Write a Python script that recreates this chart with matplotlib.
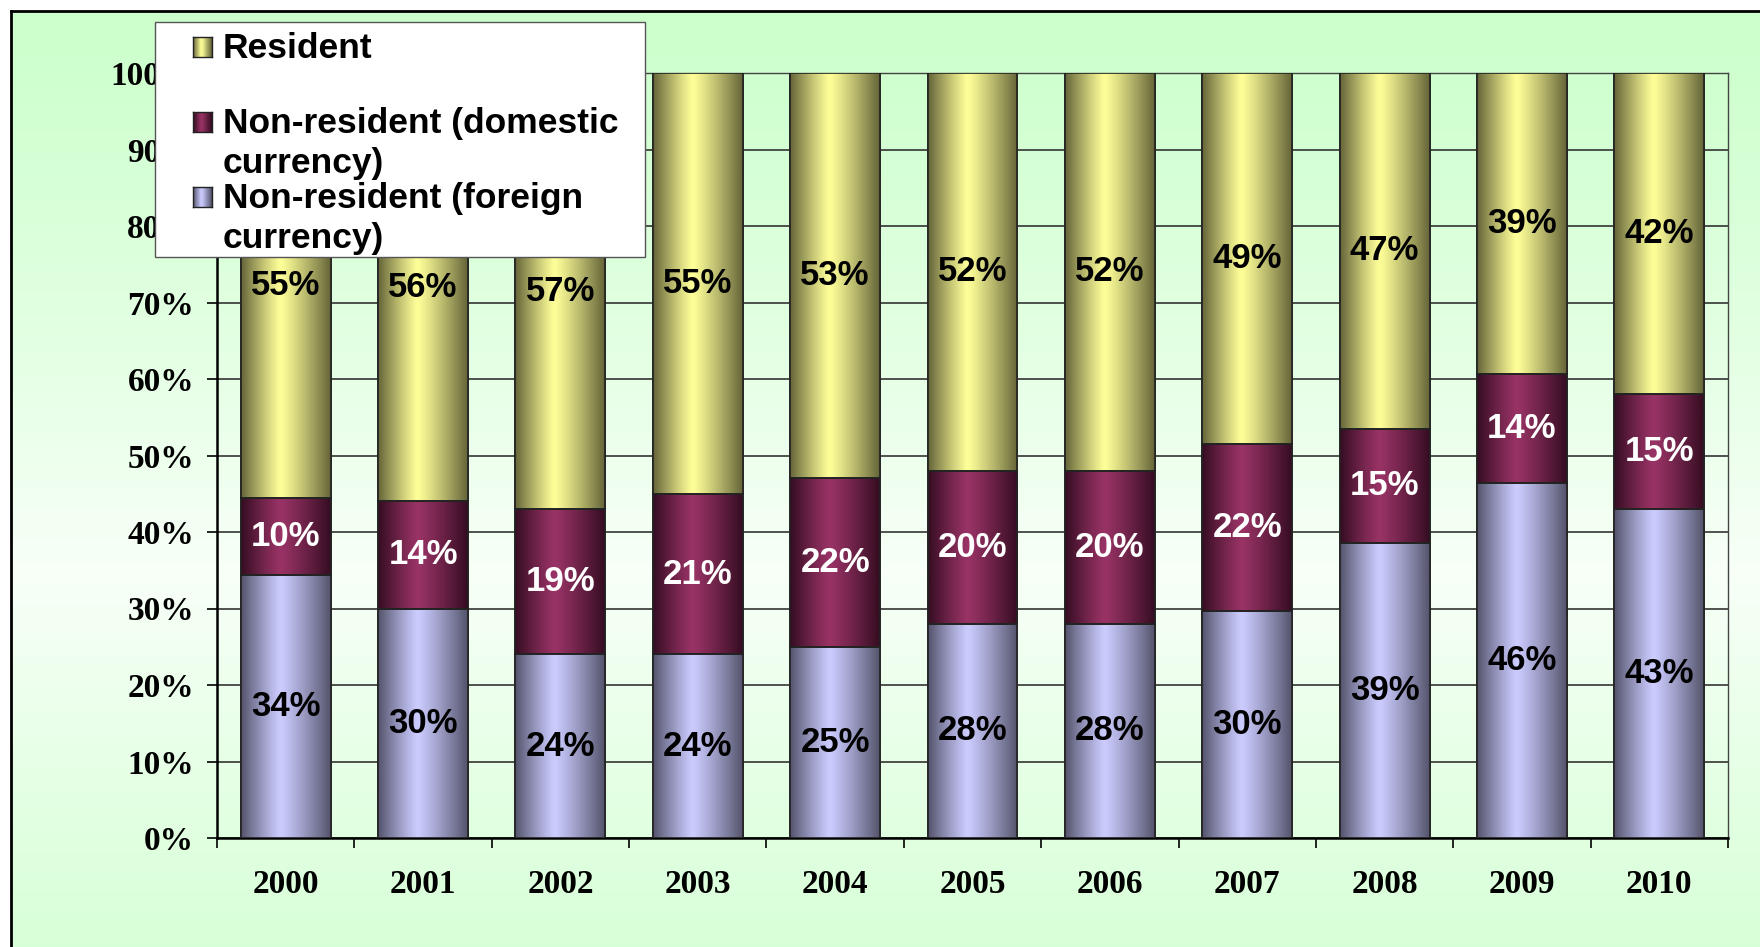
import numpy as np
import matplotlib.pyplot as plt
from matplotlib.patches import Rectangle
from matplotlib.colors import to_rgb

years = ['2000', '2001', '2002', '2003', '2004', '2005',
         '2006', '2007', '2008', '2009', '2010']
foreign = [34, 30, 24, 24, 25, 28, 28, 30, 39, 46, 43]
domestic = [10, 14, 19, 21, 22, 20, 20, 22, 15, 14, 15]
resident = [55, 56, 57, 55, 53, 52, 52, 49, 47, 39, 42]

series_names = ['Non-resident (foreign currency)',
                'Non-resident (domestic currency)',
                'Resident']
light_cols = ['#ccccff', '#993366', '#ffff99']
dark_cols = ['#55556e', '#360d22', '#66663a']
label_cols = ['black', 'white', 'black']

W, H = 1760, 947


def shade_strip(light, dark, n=64):
    # horizontal "cylinder" shading, dark at the edges, bright a bit left of middle
    t = np.linspace(0, 1, n)
    peak = 0.44
    d = np.where(t < peak, (peak - t) / peak, (t - peak) / (1 - peak))
    w = np.clip(1 - d ** 1.15, 0, 1)
    lo, hi = np.array(to_rgb(dark)), np.array(to_rgb(light))
    return (lo + (hi - lo) * w[:, None])[None, :, :]


fig = plt.figure(figsize=(W / 100, H / 100), dpi=100)
fig.patch.set_facecolor('white')

# green gradient background with frame on left/top
bg = fig.add_axes([11 / W, 0, 1 - 11 / W, 1 - 11 / H], zorder=-5)
yy = np.linspace(0, 1, 200)
g = np.clip(1 - np.abs(yy - 0.6) / 0.6, 0, 1) ** 1.2
top_c, white_c = np.array([204, 255, 204]) / 255, np.array([248, 255, 248]) / 255
bg_img = top_c + (white_c - top_c) * g[:, None]
bg.imshow(bg_img[:, None, :], extent=[0, 1, 1, 0], aspect='auto')
bg.set_xlim(0, 1)
bg.set_ylim(1, 0)
bg.set_xticks([])
bg.set_yticks([])
for s in ['right', 'bottom']:
    bg.spines[s].set_visible(False)
for s in ['left', 'top']:
    bg.spines[s].set_linewidth(2)
    bg.spines[s].set_color('black')

ax = fig.add_axes([217 / W, 1 - 838 / H, (1728 - 217) / W, (838 - 73) / H])
ax.set_facecolor('none')

x = np.arange(len(years))
data = np.array([foreign, domestic, resident], dtype=float)
shares = data / data.sum(axis=0) * 100
bar_w = 0.655

bottoms = np.zeros(len(years))
for i in range(3):
    bars = ax.bar(x, shares[i], bottom=bottoms, width=bar_w, color=light_cols[i],
                  edgecolor='#222222', linewidth=1.2, zorder=3)
    strip = shade_strip(light_cols[i], dark_cols[i])
    for b in bars:
        im = ax.imshow(strip, extent=[b.get_x(), b.get_x() + b.get_width(),
                                      b.get_y(), b.get_y() + b.get_height()],
                       aspect='auto', zorder=3.5, interpolation='bilinear')
        im.set_clip_path(b)
    # redraw the outlines over the shading
    ax.bar(x, shares[i], bottom=bottoms, width=bar_w, fill=False,
           edgecolor='#222222', linewidth=1.2, zorder=4)
    for xi, v, s, b0 in zip(x, data[i], shares[i], bottoms):
        ax.text(xi, b0 + s / 2, f'{int(v)}%', ha='center', va='center',
                color=label_cols[i], fontsize=25, fontweight='bold',
                family='Liberation Sans', zorder=5)
    bottoms += shares[i]

ax.set_xlim(-0.5, len(years) - 0.5)
ax.set_ylim(0, 100)
ax.set_yticks(np.arange(0, 101, 10))
ax.set_yticklabels([f'{v}%' for v in range(0, 101, 10)])
ax.set_xticks(x)
ax.set_xticklabels(years)
ax.set_xticks(np.arange(-0.5, len(years), 1), minor=True)
ax.tick_params(axis='x', which='major', length=0, pad=22)
ax.tick_params(axis='x', which='minor', length=7.5, width=1.2, direction='out')
ax.tick_params(axis='y', length=7.5, width=1.2, direction='out', pad=9)
for lab in ax.get_xticklabels() + ax.get_yticklabels():
    lab.set_family('Liberation Serif')
    lab.set_fontweight('bold')
    lab.set_fontsize(24)
ax.grid(axis='y', color='#333333', linewidth=1.2, zorder=1)
ax.set_axisbelow(True)
for s in ['left', 'bottom']:
    ax.spines[s].set_linewidth(1.8)
    ax.spines[s].set_color('black')
for s in ['top', 'right']:
    ax.spines[s].set_linewidth(1.0)
    ax.spines[s].set_color('#444444')

# legend box drawn by hand (entries overflow like in the original)
fig.add_artist(Rectangle((155 / W, 1 - 257 / H), 490 / W, 235 / H,
                         transform=fig.transFigure, facecolor='white',
                         edgecolor='#555555', linewidth=1.0, zorder=10))
legend_rows = [
    (2, ['Resident'], 58),
    (1, ['Non-resident (domestic', 'currency)'], 133),
    (0, ['Non-resident (foreign', 'currency)'], 208),
]
for idx, lines, base in legend_rows:
    sw = fig.add_axes([193 / W, 1 - (base - 1) / H, 19 / W, 20 / H], zorder=11)
    sw.imshow(shade_strip(light_cols[idx], dark_cols[idx], 16), aspect='auto')
    sw.set_xticks([])
    sw.set_yticks([])
    for s in sw.spines.values():
        s.set_color('#222222')
        s.set_linewidth(1.0)
    for k, line in enumerate(lines):
        fig.text(223 / W, 1 - (base + 40 * k) / H, line, ha='left', va='baseline',
                 fontsize=25.5, fontweight='bold', family='Liberation Sans', zorder=12)

fig.savefig('out.png', dpi=100)
